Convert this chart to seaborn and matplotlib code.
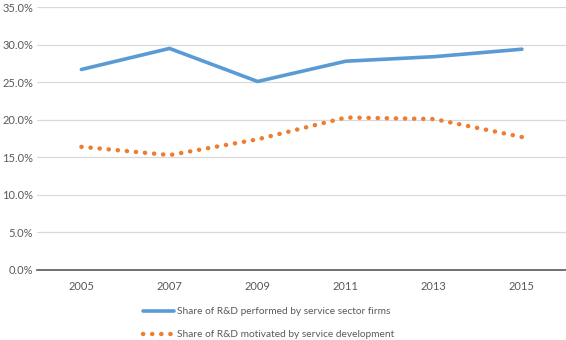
import pandas as pd
import seaborn as sns
import matplotlib.pyplot as plt
from matplotlib.ticker import FuncFormatter

sns.set_style("white")
plt.rcParams['font.family'] = ['Lato', 'DejaVu Sans']

years = ["2005", "2007", "2009", "2011", "2013", "2015"]
service_firms = [26.7, 29.5, 25.1, 27.8, 28.4, 29.4]
service_dev = [16.4, 15.3, 17.4, 20.3, 20.1, 17.7]
label_firms = "Share of R&D performed by service sector firms"
label_dev = "Share of R&D motivated by service development"

df = pd.DataFrame({"year": years, "firms": service_firms, "dev": service_dev})

fig = plt.figure(figsize=(5.66, 3.4), dpi=100)
ax = fig.add_axes([0.066, 0.206, 0.934, 0.773])

sns.lineplot(data=df, x="year", y="firms", ax=ax, color="#5B9BD5", linewidth=2.6,
             label=label_firms, sort=False)
sns.lineplot(data=df, x="year", y="dev", ax=ax, color="#ED7D31", linewidth=3.2,
             label=label_dev, sort=False, linestyle=(0, (0.05, 2.0)),
             dash_capstyle="round")

ax.set_xlim(-0.5, 5.5)
ax.set_ylim(0, 35)
ax.set_yticks([0, 5, 10, 15, 20, 25, 30, 35])
ax.yaxis.set_major_formatter(FuncFormatter(lambda v, p: f"{v:.1f}%"))
ax.grid(axis="y", color="#D9D9D9", linewidth=0.9)
ax.set_axisbelow(True)
for s in ["top", "right", "left"]:
    ax.spines[s].set_visible(False)
ax.spines["bottom"].set_color("#595959")
ax.spines["bottom"].set_linewidth(1.2)
ax.tick_params(axis="both", colors="#595959", labelsize=8, length=0, pad=8)
ax.tick_params(axis="y", pad=3)
ax.set_xlabel("")
ax.set_ylabel("")

handles, labels = ax.get_legend_handles_labels()
ax.get_legend().remove()
for h in handles:
    h.set_dash_capstyle("round")
fig.legend(handles, labels, loc="upper left", bbox_to_anchor=(0.252, 0.097),
           frameon=False, fontsize=7.3, labelcolor="#595959", handlelength=3.1,
           handletextpad=0.3, labelspacing=1.4, borderaxespad=0, borderpad=0)

fig.savefig("out.png", dpi=100)
